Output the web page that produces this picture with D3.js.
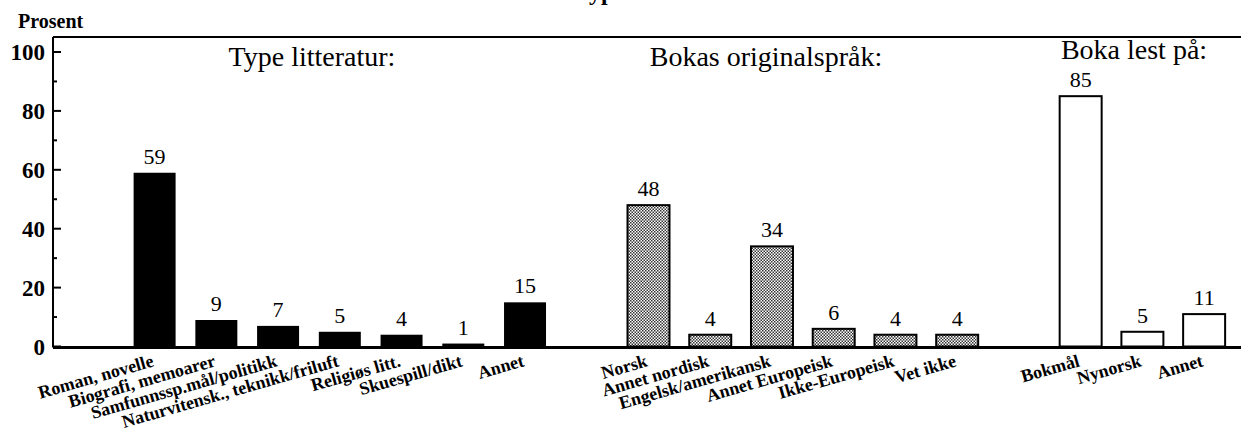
<!DOCTYPE html>
<html>
<head>
<meta charset="utf-8">
<script src="https://cdn.jsdelivr.net/npm/d3@7"></script>
<style>
  body { margin: 0; background: #fff; }
  svg { display: block; font-family: "Liberation Serif", "Times New Roman", serif; }
</style>
</head>
<body>
<div id="chart"></div>
<script>
// values
const litteraturCats = ["Roman, novelle", "Biografi, memoarer", "Samfunnssp.mål/politikk",
  "Naturvitensk., teknikk/friluft", "Religiøs litt.", "Skuespill/dikt", "Annet"];
const litteraturVals = [59, 9, 7, 5, 4, 1, 15];

const spraakCats = ["Norsk", "Annet nordisk", "Engelsk/amerikansk", "Annet Europeisk",
  "Ikke-Europeisk", "Vet ikke"];
const spraakVals = [48, 4, 34, 6, 4, 4];

const lestCats = ["Bokmål", "Nynorsk", "Annet"];
const lestVals = [85, 5, 11];

const groupTitles = ["Type litteratur:", "Bokas originalspråk:", "Boka lest på:"];
const yTicks = [0, 20, 40, 60, 80, 100];

let width = 1241, height = 428;

let svg = d3.select("#chart").append("svg")
  .attr("width", width)
  .attr("height", height);

// fine dot screen for the middle group
let defs = svg.append("defs");
let pat = defs.append("pattern")
  .attr("id", "dots")
  .attr("width", 3).attr("height", 3)
  .attr("patternUnits", "userSpaceOnUse");
pat.append("rect").attr("width", 3).attr("height", 3).attr("fill", "#fff");
pat.append("rect").attr("x", 0).attr("y", 0).attr("width", 1.5).attr("height", 1.5).attr("fill", "#333");
pat.append("rect").attr("x", 1.5).attr("y", 1.5).attr("width", 1.5).attr("height", 1.5).attr("fill", "#333");

let groups = [
  {title: groupTitles[0], cats: litteraturCats, vals: litteraturVals, fill: "#000", stroke: "none"},
  {title: groupTitles[1], cats: spraakCats, vals: spraakVals, fill: "url(#dots)", stroke: "#000"},
  {title: groupTitles[2], cats: lestCats, vals: lestVals, fill: "#fff", stroke: "#000"}
];

// one band per bar, with an empty slot before each group
let slots = [];
groups.forEach((g, gi) => {
  slots.push("_gap" + gi);
  g.cats.forEach(c => slots.push(gi + "|" + c));
});

let axisX = 53, topY = 37;

let x = d3.scaleBand()
  .domain(slots)
  .range([62, 1235])
  .paddingInner(0.32)
  .paddingOuter(0.16);

let y = d3.scaleLinear()
  .domain([0, 100])
  .range([346.5, 52]);

// frame: top rule
svg.append("line")
  .attr("x1", axisX).attr("x2", width)
  .attr("y1", topY).attr("y2", topY)
  .attr("stroke", "#000").attr("stroke-width", 2);

// main title, cut off by the top edge as in the scan
svg.append("text")
  .attr("x", 600).attr("y", 0)
  .attr("text-anchor", "middle")
  .attr("font-size", 24)
  .attr("font-weight", "bold")
  .text("Type");

svg.append("text")
  .attr("x", 18).attr("y", 28)
  .attr("font-size", 20)
  .attr("font-weight", "bold")
  .text("Prosent");

// y axis, ticks pointing inward
let yAxis = svg.append("g")
  .attr("transform", `translate(${axisX},0)`);

yAxis.append("line")
  .attr("x1", 0).attr("x2", 0)
  .attr("y1", topY).attr("y2", y(0) + 1)
  .attr("stroke", "#000").attr("stroke-width", 2);

yAxis.selectAll(".minor")
  .data(d3.range(10, 100, 20))
  .enter().append("line")
    .attr("x1", 0).attr("x2", 4)
    .attr("y1", d => y(d)).attr("y2", d => y(d))
    .attr("stroke", "#000").attr("stroke-width", 2);

yAxis.selectAll(".major")
  .data(yTicks)
  .enter().append("line")
    .attr("x1", 0).attr("x2", 8)
    .attr("y1", d => y(d)).attr("y2", d => y(d))
    .attr("stroke", "#000").attr("stroke-width", 2);

yAxis.selectAll("text")
  .data(yTicks)
  .enter().append("text")
    .attr("x", -8)
    .attr("y", d => y(d))
    .attr("dy", "0.35em")
    .attr("text-anchor", "end")
    .attr("font-size", 23)
    .attr("font-weight", "bold")
    .text(d => d);

groups.forEach((g, gi) => {
  let data = g.cats.map((c, i) => ({key: gi + "|" + c, cat: c, val: g.vals[i]}));
  let gg = svg.append("g");

  gg.selectAll("rect")
    .data(data)
    .enter().append("rect")
      .attr("x", d => x(d.key))
      .attr("y", d => y(d.val))
      .attr("width", x.bandwidth())
      .attr("height", d => y(0) - y(d.val))
      .attr("fill", g.fill)
      .attr("stroke", g.stroke)
      .attr("stroke-width", 2);

  gg.selectAll(".val")
    .data(data)
    .enter().append("text")
      .attr("x", d => x(d.key) + x.bandwidth() / 2)
      .attr("y", d => y(d.val) - 9)
      .attr("text-anchor", "middle")
      .attr("font-size", 22)
      .text(d => d.val);

  gg.selectAll(".cat")
    .data(data)
    .enter().append("text")
      .attr("text-anchor", "end")
      .attr("font-size", 18)
      .attr("font-weight", "bold")
      .attr("transform", d => `translate(${x(d.key) + x.bandwidth() / 2},${366}) rotate(-16)`)
      .text(d => d.cat);
});

// group headings
let titlePos = [[312, 66], [766, 66], [1134, 59]];
svg.selectAll(".gtitle")
  .data(groupTitles)
  .enter().append("text")
    .attr("x", (d, i) => titlePos[i][0])
    .attr("y", (d, i) => titlePos[i][1])
    .attr("text-anchor", "middle")
    .attr("font-size", 28)
    .text(d => d);

// baseline
svg.append("line")
  .attr("x1", axisX).attr("x2", width)
  .attr("y1", y(0) + 1).attr("y2", y(0) + 1)
  .attr("stroke", "#000").attr("stroke-width", 3);
</script>
</body>
</html>
